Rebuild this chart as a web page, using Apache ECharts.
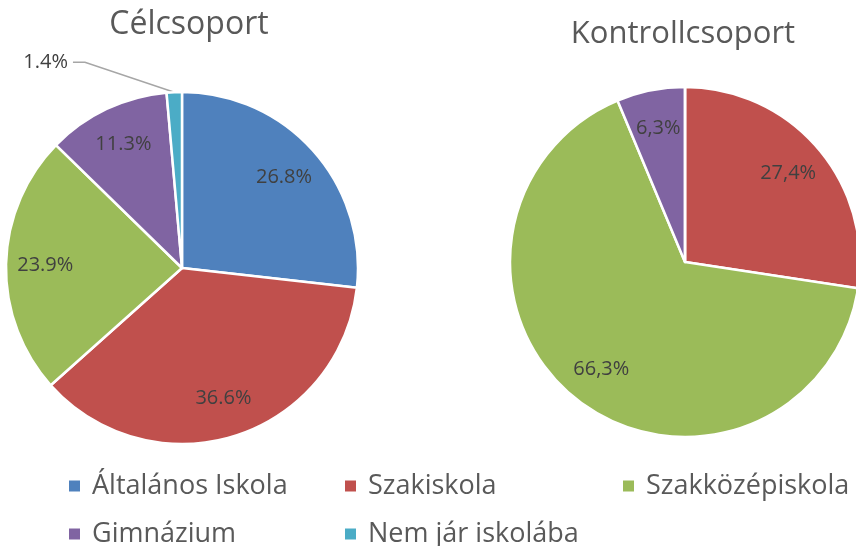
<!DOCTYPE html>
<html>
<head>
<meta charset="utf-8">
<script src="https://cdn.jsdelivr.net/npm/echarts@6/dist/echarts.min.js"></script>
<style>
  html, body { margin: 0; padding: 0; background: #fff; }
  #chart { width: 856px; height: 546px; }
</style>
</head>
<body>
<div id="chart"></div>
<script>
const categories = ['Általános Iskola', 'Szakiskola', 'Szakközépiskola', 'Gimnázium', 'Nem jár iskolába'];
const celValues = [26.8, 36.6, 23.9, 11.3, 1.4];
const kontrollValues = [0, 27.4, 66.3, 6.3, 0];
const colors = ['#4F81BD', '#C0504D', '#9BBB59', '#8064A2', '#4BACC6'];

const FONT = '"Open Sans", Lato, sans-serif';

// percent text, the control group uses a decimal comma
const fmt = (v, comma) => {
  const s = v.toFixed(1) + '%';
  return comma ? s.replace('.', ',') : s;
};

const chart = echarts.init(document.getElementById('chart'));

function mainSeries(values, center, radius, comma) {
  return {
    type: 'pie',
    center: center,
    radius: radius,
    startAngle: 90,
    clockwise: true,
    itemStyle: { borderColor: '#fff', borderWidth: 2.5 },
    emphasis: { disabled: true },
    data: values.map((v, i) => ({
      name: categories[i],
      value: v,
      // only tiny slices get an outside label with a leader line
      label: { show: v > 0 && v < 3 },
      labelLine: { show: v > 0 && v < 3 }
    })),
    label: {
      position: 'outside',
      formatter: p => fmt(p.value, comma),
      fontFamily: FONT,
      fontSize: 20,
      color: '#404040'
    },
    labelLine: {
      length: 30,
      length2: 100,
      lineStyle: { color: '#a6a6a6', width: 1.5 }
    },
    // make the leader a slanted line with a short flat end, like Excel does
    labelLayout: p => {
      const pts = p.labelLinePoints;
      if (!pts) return {};
      const end = pts[2];
      const dir = end[0] < pts[1][0] ? 1 : -1;
      return { labelLinePoints: [pts[0], [end[0] + dir * 12, end[1]], end] };
    }
  };
}

// transparent ring that only carries the inside labels at ~3/4 radius
function labelSeries(values, center, radius, comma) {
  return {
    type: 'pie',
    center: center,
    radius: [radius * 0.52, radius],
    startAngle: 90,
    clockwise: true,
    silent: true,
    legendHoverLink: false,
    itemStyle: { color: 'rgba(0,0,0,0)' },
    emphasis: { disabled: true },
    labelLine: { show: false },
    data: values.map((v, i) => ({ name: categories[i], value: v })),
    label: {
      position: 'inside',
      formatter: p => (p.value >= 3 ? fmt(p.value, comma) : ''),
      fontFamily: FONT,
      fontSize: 20,
      color: '#404040'
    }
  };
}

const legendText = { fontFamily: FONT, fontSize: 27, color: '#595959', lineHeight: 30, padding: [0, 0, 0, 6] };
const legendCol = (left, names) => ({
  orient: 'vertical',
  left: left,
  top: 466,
  height: 80,
  icon: 'rect',
  itemWidth: 13,
  itemHeight: 13,
  itemGap: 18,
  selectedMode: false,
  textStyle: legendText,
  data: names
});

const option = {
  color: colors,
  animation: false,
  title: [
    {
      text: 'Célcsoport',
      left: 184, top: 4, textAlign: 'center',
      textStyle: { fontFamily: FONT, fontSize: 32, fontWeight: 'normal', color: '#595959' }
    },
    {
      text: 'Kontrollcsoport',
      left: 678, top: 14, textAlign: 'center',
      textStyle: { fontFamily: FONT, fontSize: 31, fontWeight: 'normal', color: '#595959' }
    }
  ],
  legend: [
    legendCol(62, [categories[0], categories[3]]),
    legendCol(338, [categories[1], categories[4]]),
    legendCol(616, [categories[2]])
  ],
  series: [
    mainSeries(celValues, [182, 268], 176, false),
    mainSeries(kontrollValues, [685, 262], 175, true),
    labelSeries(celValues, [182, 268], 176, false),
    labelSeries(kontrollValues, [685, 262], 175, true)
  ]
};

chart.setOption(option);
</script>
</body>
</html>
